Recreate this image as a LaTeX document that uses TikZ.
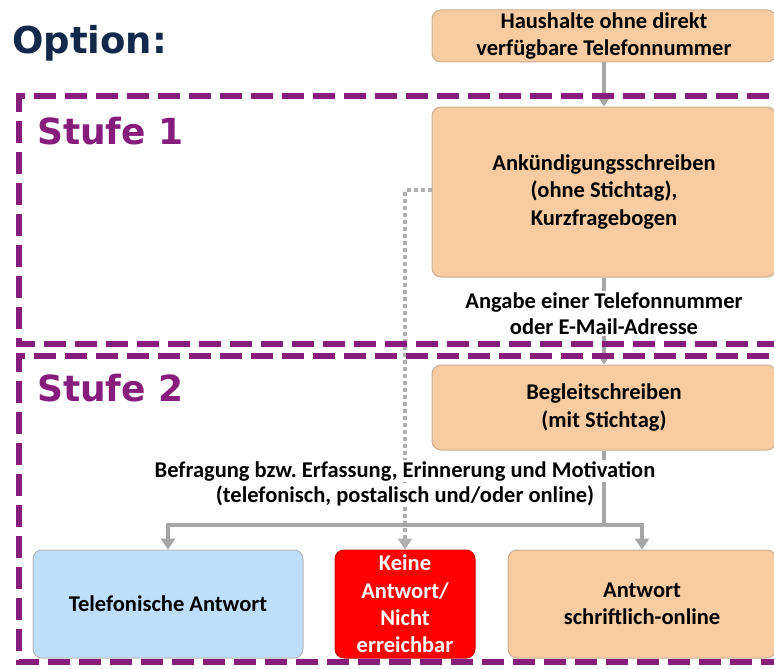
\documentclass[tikz,border=0pt]{standalone}
\usepackage{fontspec}
\setmainfont{Carlito}
\newfontfamily\headfont{DejaVu Sans}
\usetikzlibrary{arrows.meta}
\frenchspacing
\definecolor{peach}{HTML}{F8CBA0}
\definecolor{peachline}{HTML}{C9AE95}
\definecolor{lblue}{HTML}{BDDFFB}
\definecolor{purp}{HTML}{861C7C}
\definecolor{navy}{HTML}{13294B}
\definecolor{arrowgrey}{HTML}{A6A6A6}
\tikzset{
  x=1pt, y=-1pt,
  box/.style={draw=peachline, line width=1pt, rounded corners=9pt, fill=peach, inner sep=0pt, align=center,
    font=\fontsize{22.5}{27.3}\selectfont\bfseries},
  stagebox/.style={draw=purp, line width=6pt, dash pattern=on 22pt off 9pt},
  stagelabel/.style={text=purp, font=\headfont\fontsize{36}{40}\selectfont\bfseries, anchor=base west, inner sep=0pt},
  conn/.style={draw=arrowgrey, line width=4pt, -{Triangle[width=14pt,length=11pt]}},
  plainconn/.style={draw=arrowgrey, line width=4pt},
  dotconn/.style={draw=arrowgrey!90, line width=4.5pt, dash pattern=on 4pt off 3pt, -{Triangle[width=14pt,length=11pt]}},
  lbl/.style={fill=white, inner sep=1pt, align=center, font=\fontsize{22.5}{26.5}\selectfont\bfseries},
}
\begin{document}
\begin{tikzpicture}
\useasboundingbox (0,0) rectangle (774,669);
\clip (0,0) rectangle (774,669);

% boxes
\node[box, minimum width=344pt, minimum height=52pt] (hh) at (604,36) {Haushalte ohne direkt\\verfügbare Telefonnummer};
\node[box, minimum width=344pt, minimum height=170pt] (ank) at (604,192) {Ankündigungsschreiben\\(ohne Stichtag),\\Kurzfragebogen};
\node[box, minimum width=344pt, minimum height=85pt] (beg) at (604,407.5) {Begleitschreiben\\(mit Stichtag)};
\node[box, draw=arrowgrey!80, fill=lblue, minimum width=270pt, minimum height=108pt] (tel) at (168,604) {Telefonische Antwort};
\node[box, draw=red!80!black, fill=red, text=white, minimum width=140pt, minimum height=108pt] (keine) at (405,604) {Keine\\Antwort/\\Nicht\\erreichbar};
\node[box, minimum width=268pt, minimum height=108pt] (ant) at (642,604) {Antwort\\schriftlich-online};

% dotted connector
\draw[dotconn] (ank.west |- 0,190) -- (405,190) -- (keine.north);

% solid connectors
\draw[conn] (hh.south) -- (ank.north);
\draw[conn] (ank.south) -- (beg.north);
\coordinate (split) at (604,525);
\draw[plainconn] (beg.south) -- (split);
\draw[conn] (split) -| (tel.north);
\draw[conn] (split) -| (ant.north);

% labels
\node[lbl] (lab1) at (604,313.5) {Angabe einer Telefonnummer\\oder E-Mail-Adresse};
\node[lbl] (lab2a) at (405,471) {Befragung bzw. Erfassung, Erinnerung und Motivation};
\node[lbl] (lab2b) at (405,496) {(telefonisch, postalisch und/oder online)};

% stage frames
\draw[stagebox] (800,96) -- (19,96) -- (19,344) -- (800,344);
\draw[stagebox] (800,356) -- (19,356) -- (19,662) -- (800,662);

\node[stagelabel] (s1) at (37,144) {Stufe 1};
\node[stagelabel] (s2) at (37,401) {Stufe 2};
\node[text=navy, font=\headfont\fontsize{37}{41}\selectfont\bfseries, anchor=base west, inner sep=0pt] (opt) at (12,54) {Option:};
\end{tikzpicture}
\end{document}
